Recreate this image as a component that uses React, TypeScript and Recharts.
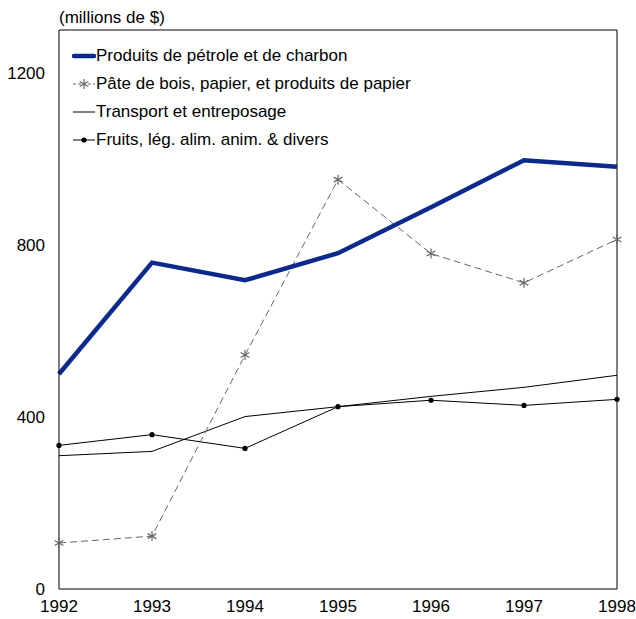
import React from "react";
import { LineChart, Line, XAxis, YAxis, ReferenceLine } from "recharts";

const years = [1992, 1993, 1994, 1995, 1996, 1997, 1998];
const petrole = [500, 759, 718, 781, 888, 997, 982];
const pate = [107, 123, 544, 952, 780, 712, 813];
const transport = [310, 320, 401, 424, 448, 469, 497];
const fruits = [334, 359, 327, 424, 439, 427, 441];
const yTicks = [0, 400, 800, 1200];
const names = [
  "Produits de pétrole et de charbon",
  "Pâte de bois, papier, et produits de papier",
  "Transport et entreposage",
  "Fruits, lég. alim. anim. & divers",
];

const data = years.map((y, i) => ({
  year: y,
  petrole: petrole[i],
  pate: pate[i],
  transport: transport[i],
  fruits: fruits[i],
}));

const NAVY = "#0B2A8C";
const GRAY = "#666666";
const FONT = "'Liberation Sans', Arial, sans-serif";
const FS = 17;

const Star = (props: any) => {
  const { cx, cy } = props;
  if (cx == null || cy == null) return null;
  const r = 5;
  const dx = r * Math.cos(Math.PI / 6);
  const dy = r * Math.sin(Math.PI / 6);
  return (
    <g stroke={GRAY} strokeWidth={1.2}>
      <line x1={cx} y1={cy - r} x2={cx} y2={cy + r} />
      <line x1={cx - dx} y1={cy - dy} x2={cx + dx} y2={cy + dy} />
      <line x1={cx - dx} y1={cy + dy} x2={cx + dx} y2={cy - dy} />
    </g>
  );
};

const Dot = (props: any) => {
  const { cx, cy } = props;
  if (cx == null || cy == null) return null;
  return <circle cx={cx} cy={cy} r={2.6} fill="#000" stroke="none" />;
};

const icons = [
  <svg width={24} height={10}><line x1={2} y1={5} x2={22} y2={5} stroke={NAVY} strokeWidth={4.5} strokeLinecap="round" /></svg>,
  <svg width={24} height={12}><line x1={1} y1={6} x2={23} y2={6} stroke={GRAY} strokeWidth={1} strokeDasharray="3 2" /><g stroke={GRAY} strokeWidth={1.2}><line x1={12} y1={1} x2={12} y2={11} /><line x1={7.7} y1={3.5} x2={16.3} y2={8.5} /><line x1={7.7} y1={8.5} x2={16.3} y2={3.5} /></g></svg>,
  <svg width={24} height={10}><line x1={1} y1={5} x2={23} y2={5} stroke="#000" strokeWidth={1} /></svg>,
  <svg width={24} height={10}><line x1={1} y1={5} x2={23} y2={5} stroke="#000" strokeWidth={1} /><circle cx={12} cy={5} r={2.6} fill="#000" /></svg>,
];

export default function App() {
  return (
    <div style={{ position: "absolute", left: 0, top: 0, width: 636, height: 619, background: "#fff", fontFamily: FONT }}>
      <div style={{ position: "absolute", left: 59, top: 8, fontSize: FS, lineHeight: "20px", color: "#000" }}>(millions de $)</div>
      <LineChart width={636} height={619} data={data} margin={{ top: 30, right: 19, bottom: 0, left: 9 }}>
        <XAxis
          dataKey="year"
          type="number"
          domain={[1992, 1998]}
          ticks={years}
          tickLine={false}
          axisLine={{ stroke: "#000" }}
          tick={{ fill: "#000", fontSize: FS, fontFamily: FONT }}
          tickMargin={5}
          height={30}
        />
        <YAxis
          domain={[0, 1300]}
          ticks={yTicks}
          tickLine={false}
          axisLine={{ stroke: "#000" }}
          tick={{ fill: "#000", fontSize: FS, fontFamily: FONT }}
          tickMargin={8}
          width={50}
        />
        <ReferenceLine y={1300} stroke="#000" strokeWidth={1} ifOverflow="visible" />
        <ReferenceLine x={1998} stroke="#000" strokeWidth={1} ifOverflow="visible" />
        <Line dataKey="transport" stroke="#000" strokeWidth={1} dot={false} isAnimationActive={false} />
        <Line dataKey="fruits" stroke="#000" strokeWidth={1} dot={<Dot />} isAnimationActive={false} />
        <Line dataKey="pate" stroke={GRAY} strokeWidth={1} strokeDasharray="7 4" dot={<Star />} isAnimationActive={false} />
        <Line dataKey="petrole" stroke={NAVY} strokeWidth={4.5} dot={false} isAnimationActive={false} />
      </LineChart>
      <div style={{ position: "absolute", left: 72, top: 42 }}>
        {names.map((n, i) => (
          <div key={n} style={{ display: "flex", alignItems: "center", height: 28, fontSize: FS, color: "#000" }}>
            <div style={{ width: 24, display: "flex", alignItems: "center" }}>{icons[i]}</div>
            <span>{n}</span>
          </div>
        ))}
      </div>
    </div>
  );
}
